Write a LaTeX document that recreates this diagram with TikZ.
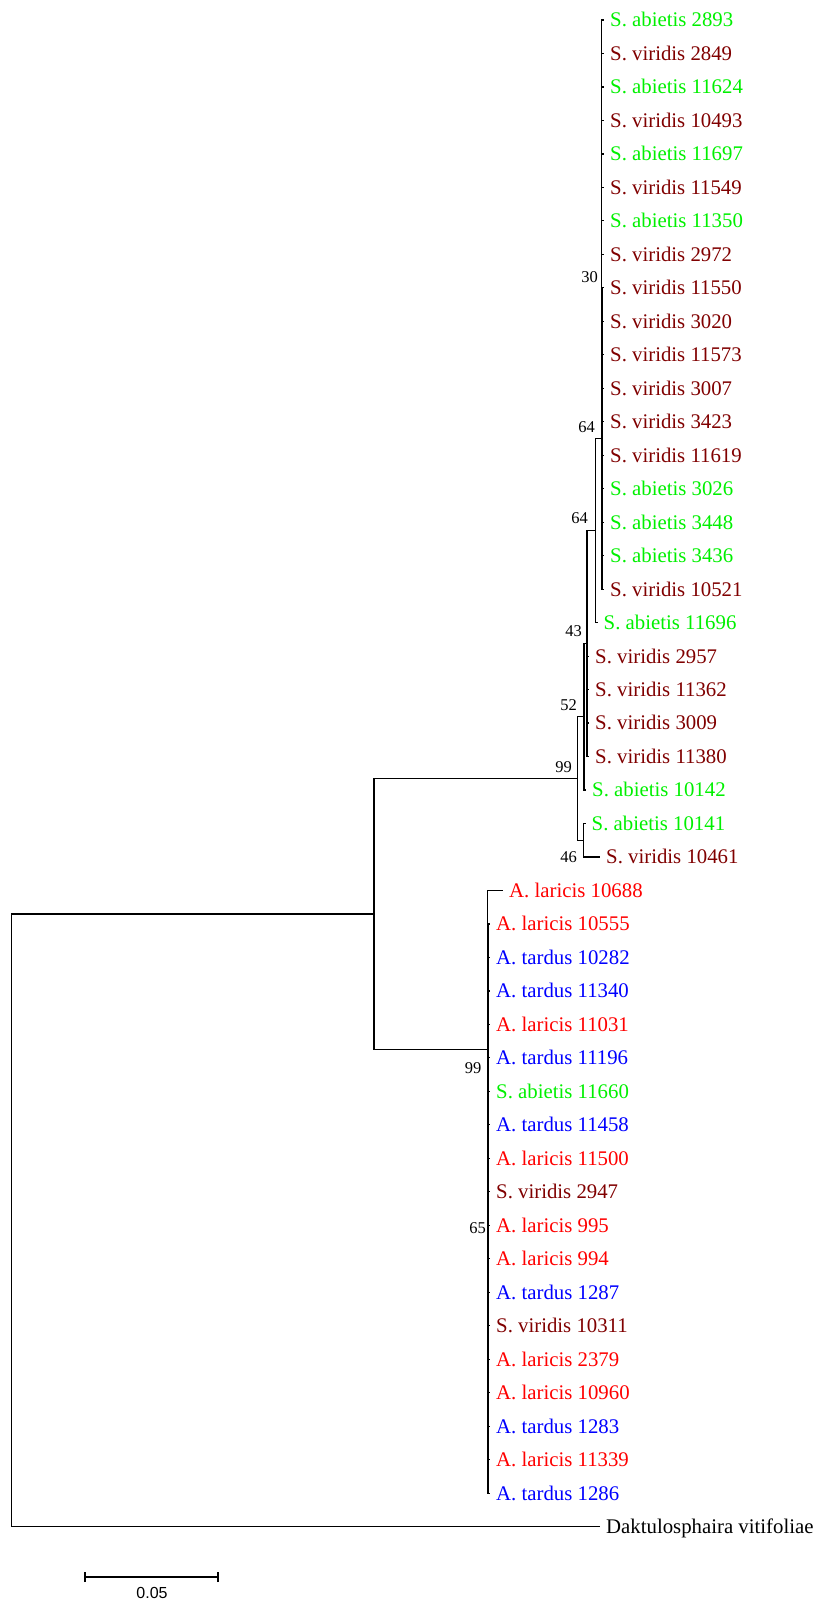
\documentclass[tikz,border=0pt]{standalone}
\usepackage{fontspec}
\setmainfont{Liberation Serif}
\newfontfamily\barfont{Liberation Sans}
\definecolor{colAb}{RGB}{0,240,0}
\definecolor{colVi}{RGB}{128,0,0}
\definecolor{colLa}{RGB}{255,0,0}
\definecolor{colTa}{RGB}{0,0,255}
\tikzset{
  branch/.style={line width=1.2pt, line join=miter, draw=black},
  leaf/.style={anchor=west, inner sep=0pt, text height=13.8pt, text depth=0pt,
    font=\fontsize{20.8}{24}\selectfont},
  boot/.style={anchor=base east, inner sep=0pt, font=\fontsize{16.5}{18}\selectfont},
  barlabel/.style={anchor=base, inner sep=0pt, font=\barfont\fontsize{16}{18}\selectfont}
}
\begin{document}
\begin{tikzpicture}[x=1pt,y=-1pt]
\useasboundingbox (0,0) rectangle (818,1601);

% internal nodes of the tree
\coordinate (n30)  at (601.5, 287.8);
\coordinate (n64a) at (602.0, 438.5);
\coordinate (n64b) at (595.5, 530.6);
\coordinate (n43)  at (587.0, 643.6);
\coordinate (n52)  at (584.0, 716.8);
\coordinate (n46)  at (583.5, 840.3);
\coordinate (nS99) at (577.3, 778.5);
\coordinate (n65)  at (488.0, 1208.6);
\coordinate (nA99) at (487.5, 1049.5);
\coordinate (nIn)  at (374.0, 914.0);
\coordinate (root) at (11.5, 1220.3);

% terminal taxa: row / branch end / colour / name
\foreach \i/\tx/\c/\lab in {
  0/604/colAb/S. abietis 2893,
  1/604/colVi/S. viridis 2849,
  2/604/colAb/S. abietis 11624,
  3/604/colVi/S. viridis 10493,
  4/604/colAb/S. abietis 11697,
  5/604/colVi/S. viridis 11549,
  6/604/colAb/S. abietis 11350,
  7/604/colVi/S. viridis 2972,
  8/604/colVi/S. viridis 11550,
  9/604/colVi/S. viridis 3020,
  10/604/colVi/S. viridis 11573,
  11/604/colVi/S. viridis 3007,
  12/604/colVi/S. viridis 3423,
  13/604/colVi/S. viridis 11619,
  14/604/colAb/S. abietis 3026,
  15/604/colAb/S. abietis 3448,
  16/604/colAb/S. abietis 3436,
  17/604/colVi/S. viridis 10521,
  18/597.5/colAb/S. abietis 11696,
  19/589/colVi/S. viridis 2957,
  20/589/colVi/S. viridis 11362,
  21/589/colVi/S. viridis 3009,
  22/589/colVi/S. viridis 11380,
  23/586/colAb/S. abietis 10142,
  24/585.5/colAb/S. abietis 10141,
  25/600/colVi/S. viridis 10461,
  26/503/colLa/A. laricis 10688,
  27/490/colLa/A. laricis 10555,
  28/490/colTa/A. tardus 10282,
  29/490/colTa/A. tardus 11340,
  30/490/colLa/A. laricis 11031,
  31/490/colTa/A. tardus 11196,
  32/490/colAb/S. abietis 11660,
  33/490/colTa/A. tardus 11458,
  34/490/colLa/A. laricis 11500,
  35/490/colVi/S. viridis 2947,
  36/490/colLa/A. laricis 995,
  37/490/colLa/A. laricis 994,
  38/490/colTa/A. tardus 1287,
  39/490/colVi/S. viridis 10311,
  40/490/colLa/A. laricis 2379,
  41/490/colLa/A. laricis 10960,
  42/490/colTa/A. tardus 1283,
  43/490/colLa/A. laricis 11339,
  44/490/colTa/A. tardus 1286,
  45/600/black/Daktulosphaira vitifoliae}{
  \coordinate (p\i) at (\tx, {20+33.48*\i});
  \node[leaf, text=\c] (t\i) at ({\tx+6}, {20+33.48*\i}) {\lab};
}

% branches
\draw[branch] (root) |- (nIn);
\draw[branch] (root) |- (p45);
\draw[branch] (nIn) |- (nS99);
\draw[branch] (nIn) |- (nA99);
\draw[branch] (nS99) |- (n52);
\draw[branch] (nS99) |- (n46);
\draw[branch] (n52) |- (n43);
\draw[branch] (n52) |- (p23);
\draw[branch] (n43) |- (n64b);
\foreach \i in {19,...,22} \draw[branch] (n43) |- (p\i);
\draw[branch] (n64b) |- (n64a);
\draw[branch] (n64b) |- (p18);
\draw[branch] (n64a) |- (n30);
\draw[branch] (n64a) |- (p17);
\foreach \i in {0,...,16} \draw[branch] (n30) |- (p\i);
\draw[branch] (n46) |- (p24);
\draw[branch] (n46) |- (p25);
\draw[branch] (nA99) |- (p26);
\draw[branch] (nA99) |- (n65);
\foreach \i in {27,...,44} \draw[branch] (n65) |- (p\i);

% bootstrap values
\node[boot] (b30)  at (598, 282) {30};
\node[boot] (b64a) at (595, 432) {64};
\node[boot] (b64b) at (588, 523) {64};
\node[boot] (b43)  at (582, 636) {43};
\node[boot] (b52)  at (577, 710) {52};
\node[boot] (bS99) at (572, 772) {99};
\node[boot] (b46)  at (577, 862) {46};
\node[boot] (bA99) at (481.5, 1073) {99};
\node[boot] (b65)  at (486, 1233) {65};

% scale bar
\coordinate (sbL) at (85, 1577);
\coordinate (sbR) at (218, 1577);
\draw[branch] (sbL) -- (sbR);
\draw[branch] ([yshift=-5pt]sbL) -- ([yshift=5pt]sbL);
\draw[branch] ([yshift=-5pt]sbR) -- ([yshift=5pt]sbR);
\node[barlabel] (sbText) at (152, 1598) {0.05};
\end{tikzpicture}
\end{document}
